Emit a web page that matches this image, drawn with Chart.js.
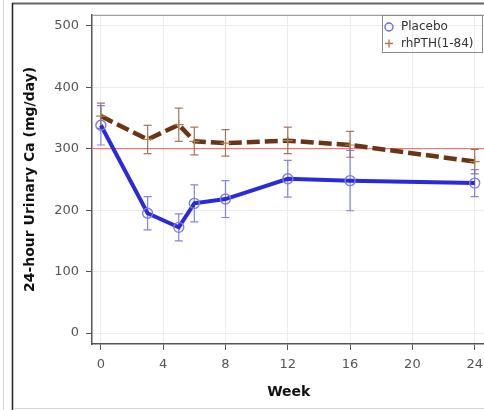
<!DOCTYPE html>
<html><head><meta charset="utf-8">
<style>
html,body{margin:0;padding:0;background:#fff;overflow:hidden;width:484px;height:410px}
#wrap{position:absolute;left:0;top:0;width:492px;height:410px}
</style>
<script src="https://cdn.jsdelivr.net/npm/chart.js@4.4.1/dist/chart.umd.min.js"></script>
</head><body><div id="wrap"><canvas id="c" width="492" height="410"></canvas></div>
<script>
const weeks = [0, 3, 5, 6, 8, 12, 16, 24];
const placeboMean = [338, 195, 172, 211, 218, 251, 248, 244];
const placeboLow  = [306, 168, 150, 181, 188, 221, 199, 222];
const placeboHigh = [370, 222, 194, 241, 248, 281, 297, 266];
const rhpthMean = [353, 315, 339, 312, 309, 313, 306, 279];
const rhpthLow  = [333, 292, 312, 290, 288, 292, 286, 259];
const rhpthHigh = [374, 338, 366, 335, 331, 335, 328, 299];
const xTicks = [0, 4, 8, 12, 16, 20, 24];
const yTicks = [0, 100, 200, 300, 400, 500];
const refValue = 300;
const seriesNames = ['Placebo', 'rhPTH(1-84)'];
const xTitle = 'Week';
const yTitle = '24-hour Urinary Ca (mg/day)';

const FONT = '"DejaVu Sans", Verdana, sans-serif';

const toXY = (ys) => weeks.map((w, i) => ({x: w, y: ys[i]}));

const errorBars = {
  id: 'errorBars',
  beforeDatasetsDraw(chart) {
    const {ctx, scales: {x, y}, chartArea} = chart;
    ctx.save();
    // reference line
    ctx.strokeStyle = '#ef7878';
    ctx.lineWidth = 1.3;
    const yr = y.getPixelForValue(refValue);
    ctx.beginPath(); ctx.moveTo(chartArea.left + 1, yr); ctx.lineTo(chartArea.right, yr); ctx.stroke();
    const groups = [
      {low: rhpthLow, high: rhpthHigh, color: 'rgba(150,105,75,0.9)'},
      {low: placeboLow, high: placeboHigh, color: 'rgba(110,110,225,0.85)'}
    ];
    groups.forEach(g => {
      ctx.strokeStyle = g.color;
      ctx.lineWidth = 1.2;
      weeks.forEach((w, i) => {
        const px = x.getPixelForValue(w);
        const p1 = y.getPixelForValue(g.low[i]);
        const p2 = y.getPixelForValue(g.high[i]);
        ctx.beginPath();
        ctx.moveTo(px, p1); ctx.lineTo(px, p2);
        ctx.moveTo(px - 4, p1); ctx.lineTo(px + 4, p1);
        ctx.moveTo(px - 4, p2); ctx.lineTo(px + 4, p2);
        ctx.stroke();
      });
    });
    ctx.restore();
  }
};

const decor = {
  id: 'decor',
  afterDraw(chart) {
    const {ctx, chartArea: a} = chart;
    ctx.save();
    // plot frame top
    ctx.strokeStyle = '#888';
    ctx.lineWidth = 1;
    ctx.beginPath(); ctx.moveTo(a.left, a.top + 0.5); ctx.lineTo(a.right, a.top + 0.5); ctx.stroke();
    // outer frames
    ctx.strokeStyle = '#666';
    ctx.lineWidth = 2;
    ctx.beginPath(); ctx.moveTo(12, 3.5); ctx.lineTo(492, 3.5); ctx.stroke();
    ctx.strokeStyle = '#222';
    ctx.lineWidth = 1.5;
    ctx.beginPath(); ctx.moveTo(12.5, 3); ctx.lineTo(12.5, 410); ctx.stroke();
    ctx.strokeStyle = '#d5d5d5';
    ctx.lineWidth = 1;
    ctx.beginPath(); ctx.moveTo(3.5, 0); ctx.lineTo(3.5, 410); ctx.stroke();
    ctx.beginPath(); ctx.moveTo(13, 408.5); ctx.lineTo(492, 408.5); ctx.stroke();
    // legend
    ctx.strokeStyle = '#8a8a8a';
    ctx.lineWidth = 1;
    ctx.strokeRect(382.5, 15.5, 100, 37);
    ctx.strokeStyle = '#6a6ae0';
    ctx.lineWidth = 1.4;
    ctx.beginPath(); ctx.arc(389, 27, 4, 0, Math.PI * 2); ctx.stroke();
    ctx.strokeStyle = '#a87c55';
    ctx.beginPath(); ctx.moveTo(385, 43.5); ctx.lineTo(393, 43.5); ctx.moveTo(389, 39.5); ctx.lineTo(389, 47.5); ctx.stroke();
    ctx.fillStyle = '#333';
    ctx.font = '12px ' + FONT;
    ctx.textBaseline = 'middle';
    ctx.textAlign = 'left';
    ctx.fillText(seriesNames[0], 401, 27);
    ctx.fillText(seriesNames[1], 401, 43.5);
    ctx.restore();
  }
};

new Chart(document.getElementById('c'), {
  type: 'line',
  data: {
    datasets: [
      {
        label: seriesNames[0],
        data: toXY(placeboMean),
        borderColor: '#2a2ad8',
        borderWidth: 4,
        pointStyle: 'circle',
        pointRadius: 5,
        pointBorderColor: '#7a7ae8',
        pointBackgroundColor: 'rgba(255,255,255,0)',
        pointBorderWidth: 1.4,
        fill: false,
        tension: 0,
        order: 1
      },
      {
        label: seriesNames[1],
        data: toXY(rhpthMean),
        borderColor: '#6b3414',
        borderWidth: 4.5,
        borderDash: [13, 5],
        pointStyle: 'cross',
        pointRadius: 5,
        pointBorderColor: '#b08050',
        pointBorderWidth: 1.2,
        fill: false,
        tension: 0,
        order: 0
      }
    ]
  },
  options: {
    responsive: false,
    animation: false,
    devicePixelRatio: 1,
    layout: {padding: {top: 13, right: 4, left: 0, bottom: 0}},
    plugins: {legend: {display: false}, tooltip: {enabled: false}},
    scales: {
      x: {
        type: 'linear',
        min: -0.57,
        max: 24.7,
        afterBuildTicks: s => { s.ticks = xTicks.map(v => ({value: v})); },
        afterFit: s => { s.height = 66; },
        grid: {color: '#ececec', lineWidth: 1, drawTicks: true, tickLength: 6, tickColor: '#555', tickWidth: 1},
        border: {display: true, color: '#555', width: 1.5},
        ticks: {font: {family: FONT, size: 13}, color: '#555', padding: 7, maxRotation: 0, autoSkip: false},
        title: {display: true, text: xTitle, color: '#111', font: {family: FONT, size: 14, weight: 'bold'}, padding: {top: 0, bottom: 9.6}}
      },
      y: {
        type: 'linear',
        min: -17.8,
        max: 517.8,
        afterBuildTicks: s => { s.ticks = yTicks.map(v => ({value: v})); },
        afterFit: s => { s.width = 92; },
        grid: {color: '#ececec', lineWidth: 1, drawTicks: true, tickLength: 6, tickColor: '#555', tickWidth: 1},
        border: {display: true, color: '#555', width: 1.5},
        ticks: {font: {family: FONT, size: 13}, color: '#555', padding: 7},
        title: {display: true, text: yTitle, color: '#111', font: {family: FONT, size: 14, weight: 'bold'}, padding: {top: 21.6, bottom: 0}}
      }
    }
  },
  plugins: [errorBars, decor]
});
</script>
</body></html>
